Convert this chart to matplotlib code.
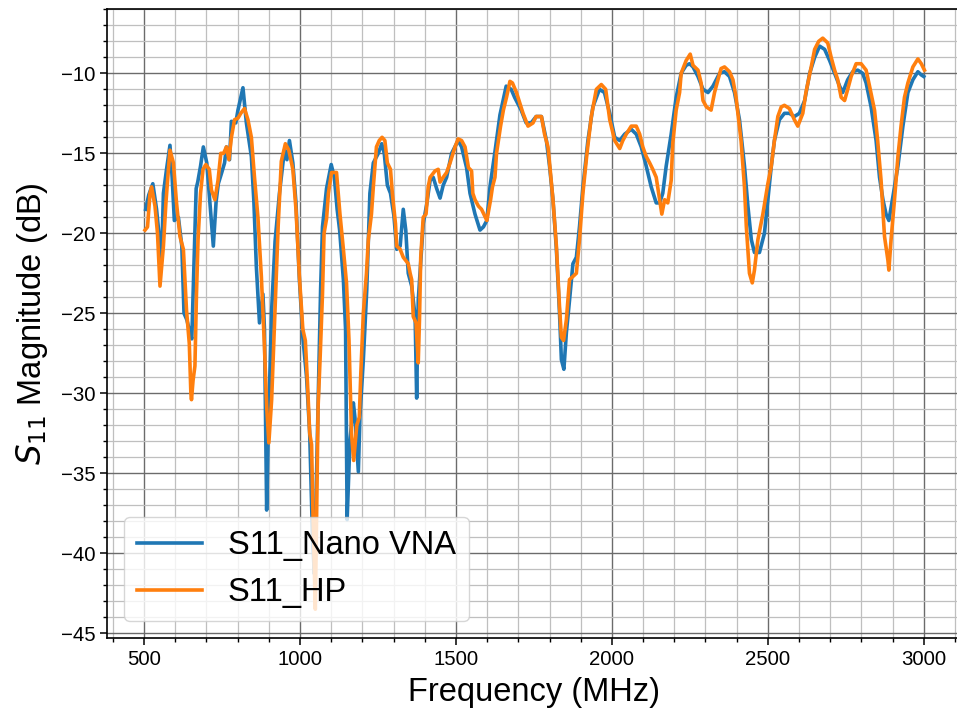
import matplotlib
matplotlib.use("Agg")
import matplotlib.pyplot as plt
from matplotlib.ticker import MultipleLocator

# --- datos (MHz, dB) ---
freq_nano = [505, 515, 528, 540, 556, 562, 572, 583, 590, 597, 610, 621, 628, 637, 647, 653,
             660, 667, 672, 681, 690, 701, 712, 722, 731, 738, 749, 758, 764, 774, 780, 794,
             801, 817, 828, 844, 852, 860, 870, 881, 886, 893, 898, 909, 920, 934, 950, 958,
             966, 977, 987, 998, 1009, 1021, 1031, 1040, 1046, 1052, 1058, 1066, 1072, 1085,
             1100, 1110, 1119, 1127, 1139, 1146, 1151, 1160, 1171, 1176, 1187, 1192, 1203,
             1214, 1224, 1235, 1251, 1262, 1270, 1280, 1290, 1301, 1310, 1321, 1331, 1339,
             1347, 1358, 1369, 1374, 1379, 1387, 1395, 1406, 1417, 1427, 1438, 1449, 1459,
             1470, 1486, 1507, 1518, 1534, 1545, 1561, 1577, 1588, 1599, 1609, 1625, 1641,
             1661, 1677, 1688, 1709, 1725, 1741, 1757, 1774, 1790, 1800, 1811, 1822, 1832,
             1838, 1846, 1854, 1864, 1875, 1886, 1896, 1907, 1923, 1939, 1960, 1976, 1993,
             2009, 2025, 2041, 2062, 2078, 2094, 2110, 2126, 2142, 2153, 2163, 2174, 2190,
             2206, 2222, 2238, 2249, 2260, 2276, 2292, 2308, 2324, 2345, 2361, 2377, 2393,
             2409, 2425, 2436, 2447, 2457, 2473, 2489, 2500, 2511, 2521, 2537, 2553, 2569,
             2585, 2601, 2618, 2634, 2650, 2666, 2682, 2698, 2714, 2730, 2740, 2756, 2772,
             2788, 2804, 2815, 2831, 2847, 2858, 2869, 2879, 2888, 2901, 2917, 2933, 2949,
             2965, 2981, 2992, 3000]
s11_nano = [-18.5, -17.6, -16.9, -18.5, -21.7, -17.5, -16.0, -14.5, -16.5, -19.2, -19.0, -20.8,
            -25.0, -25.4, -26.2, -26.6, -22.0, -17.2, -16.8, -15.8, -14.6, -15.6, -18.3, -20.8,
            -18.0, -16.9, -16.2, -15.6, -14.6, -15.4, -13.0, -13.1, -12.3, -10.9, -13.1, -15.2,
            -18.0, -22.1, -25.6, -23.8, -26.0, -37.3, -32.5, -24.8, -20.5, -17.5, -14.8, -15.4,
            -14.2, -15.6, -18.1, -22.9, -26.5, -29.0, -32.5, -39.0, -41.3, -36.0, -31.0, -23.5,
            -19.6, -17.2, -15.7, -16.5, -18.5, -19.8, -22.9, -26.0, -37.9, -33.0, -30.6, -31.5,
            -34.9, -31.5, -27.9, -23.5, -17.5, -15.6, -15.0, -14.4, -15.0, -17.0, -17.5, -18.9,
            -21.0, -20.8, -18.5, -19.8, -22.5, -23.3, -25.2, -30.3, -24.2, -21.8, -19.4, -18.2,
            -16.7, -16.5, -17.2, -17.8, -17.0, -16.5, -15.0, -14.2, -14.6, -15.9, -17.5, -18.8,
            -19.8, -19.6, -19.2, -17.1, -14.9, -12.6, -10.8, -11.0, -11.5, -12.3, -13.1, -13.1,
            -12.7, -12.7, -14.2, -15.8, -17.9, -21.0, -25.0, -27.9, -28.5, -26.2, -24.2, -21.9,
            -21.5, -19.6, -17.1, -14.2, -12.1, -11.0, -11.2, -12.5, -14.0, -14.2, -13.8, -13.5,
            -13.8, -14.6, -15.8, -17.1, -18.1, -18.1, -17.5, -15.8, -13.8, -11.5, -10.0, -9.5,
            -9.4, -9.6, -10.2, -11.0, -11.2, -10.8, -10.0, -9.9, -10.2, -11.2, -12.9, -15.8,
            -18.3, -20.4, -21.2, -21.2, -20.0, -17.9, -15.8, -14.2, -12.9, -12.5, -12.5, -12.7,
            -12.5, -11.7, -10.0, -9.0, -8.3, -8.5, -9.2, -10.0, -10.8, -11.2, -10.4, -9.9,
            -9.8, -10.0, -10.6, -12.1, -14.2, -16.5, -17.9, -18.8, -19.2, -17.7, -15.8, -13.3,
            -11.2, -10.4, -9.9, -10.1, -10.2]

freq_hp = [503, 511, 519, 524, 535, 543, 551, 562, 570, 578, 583, 594, 604, 615, 626, 636,
           645, 650, 652, 657, 663, 668, 673, 681, 689, 698, 709, 716, 727, 737, 746, 755,
           764, 772, 780, 790, 801, 810, 822, 833, 844, 854, 865, 876, 886, 893, 900, 909,
           919, 930, 940, 953, 964, 977, 987, 998, 1009, 1017, 1024, 1031, 1037, 1042, 1049,
           1058, 1064, 1072, 1077, 1085, 1091, 1101, 1117, 1128, 1139, 1149, 1157, 1165, 1172,
           1182, 1190, 1195, 1203, 1213, 1219, 1229, 1235, 1245, 1254, 1263, 1272, 1280, 1290,
           1296, 1306, 1310, 1321, 1331, 1347, 1353, 1358, 1363, 1372, 1379, 1383, 1387, 1395,
           1404, 1411, 1417, 1433, 1443, 1449, 1459, 1470, 1481, 1497, 1507, 1518, 1529, 1540,
           1550, 1554, 1561, 1572, 1582, 1599, 1611, 1617, 1625, 1630, 1643, 1652, 1662, 1673,
           1681, 1694, 1707, 1715, 1731, 1747, 1757, 1774, 1784, 1795, 1800, 1811, 1822, 1832,
           1838, 1845, 1854, 1864, 1886, 1896, 1907, 1920, 1934, 1950, 1966, 1980, 1993, 2009,
           2025, 2035, 2046, 2062, 2078, 2089, 2099, 2110, 2121, 2131, 2142, 2153, 2160, 2169,
           2179, 2190, 2195, 2206, 2217, 2222, 2238, 2251, 2260, 2276, 2286, 2292, 2303, 2318,
           2329, 2340, 2350, 2361, 2377, 2388, 2398, 2414, 2425, 2431, 2441, 2450, 2457, 2468,
           2484, 2495, 2500, 2511, 2521, 2532, 2543, 2553, 2569, 2585, 2596, 2612, 2622, 2639,
           2650, 2663, 2676, 2692, 2703, 2714, 2724, 2735, 2746, 2756, 2767, 2783, 2799, 2815,
           2826, 2842, 2852, 2863, 2874, 2885, 2888, 2895, 2906, 2917, 2927, 2938, 2949, 2965,
           2981, 2992, 3002]
s11_hp = [-19.8, -19.6, -17.5, -17.1, -18.3, -20.0, -23.3, -20.8, -18.1, -16.0, -14.8, -15.6,
          -18.1, -20.2, -21.0, -24.8, -26.9, -30.0, -30.4, -29.2, -28.3, -23.8, -20.4, -17.5,
          -16.0, -15.7, -16.0, -17.3, -17.9, -16.7, -15.0, -15.0, -14.6, -15.4, -14.0, -12.9,
          -12.8, -12.5, -12.2, -12.9, -14.0, -16.5, -19.0, -22.7, -27.1, -30.8, -33.1, -30.4,
          -25.2, -19.5, -15.5, -14.4, -14.8, -16.0, -18.5, -22.7, -26.0, -26.7, -29.4, -32.5,
          -33.2, -37.9, -43.5, -30.8, -28.0, -23.8, -20.0, -19.1, -17.5, -16.2, -16.2, -18.8,
          -21.0, -23.1, -26.7, -32.5, -34.2, -32.0, -31.5, -28.7, -25.0, -22.5, -20.4, -18.8,
          -17.1, -14.6, -14.2, -14.0, -14.2, -15.6, -16.0, -17.5, -19.4, -20.8, -21.0, -21.5,
          -21.9, -22.5, -22.9, -25.2, -25.6, -28.1, -25.4, -21.5, -19.0, -18.8, -17.1, -16.5,
          -16.1, -16.0, -16.8, -16.5, -16.2, -15.6, -14.6, -14.1, -14.2, -14.6, -15.9, -16.1,
          -17.5, -17.9, -18.3, -18.5, -19.2, -17.9, -17.1, -16.5, -15.0, -13.3, -12.3, -11.5,
          -10.5, -10.6, -11.2, -12.0, -12.5, -13.3, -13.1, -12.7, -12.7, -13.8, -14.6, -15.6,
          -17.9, -20.8, -24.6, -26.5, -26.7, -25.4, -22.9, -22.5, -20.4, -17.5, -15.0, -12.7,
          -11.0, -10.7, -11.0, -12.9, -14.2, -14.7, -14.2, -13.8, -13.3, -13.3, -13.8, -14.6,
          -15.2, -15.6, -16.0, -16.5, -17.9, -18.8, -17.9, -18.1, -16.7, -14.4, -12.3, -11.2,
          -10.0, -9.2, -8.8, -9.5, -9.8, -10.6, -11.7, -12.1, -12.3, -11.2, -10.4, -9.7, -9.6,
          -9.9, -10.4, -11.5, -14.2, -17.1, -19.6, -22.5, -23.1, -22.3, -20.4, -18.8, -17.5,
          -16.9, -15.8, -14.2, -12.7, -12.1, -12.0, -12.2, -12.9, -13.3, -12.5, -11.2, -9.6,
          -8.5, -8.0, -7.8, -8.1, -9.0, -9.8, -10.4, -11.5, -11.7, -11.0, -10.2, -9.4, -9.4,
          -9.8, -10.8, -12.3, -14.2, -16.7, -20.2, -21.7, -22.3, -20.4, -17.9, -15.2, -13.3,
          -11.5, -10.6, -9.6, -9.1, -9.4, -9.8]

# --- estilo ---
plt.rcParams["font.family"] = ["Liberation Sans", "DejaVu Sans"]

fig = plt.figure(figsize=(9.57, 7.13), dpi=100)
ax = fig.add_axes([0.1121, 0.1056, 0.892, 0.8813])

ax.plot(freq_nano, s11_nano, color="#1f77b4", lw=2.6, label="S11_Nano VNA")
ax.plot(freq_hp, s11_hp, color="#ff7f0e", lw=2.6, label="S11_HP")

ax.set_xlim(382, 3119)
ax.set_ylim(-45.28, -6.0)

ax.xaxis.set_major_locator(MultipleLocator(500))
ax.xaxis.set_minor_locator(MultipleLocator(100))
ax.yaxis.set_major_locator(MultipleLocator(5))
ax.yaxis.set_minor_locator(MultipleLocator(1))

ax.grid(which="major", color="0.42", lw=1.0)
ax.grid(which="minor", color="0.75", lw=0.9)
ax.set_axisbelow(True)

ax.tick_params(which="major", length=5, width=1.1, labelsize=14.7)
ax.tick_params(which="minor", length=3, width=1.0)
for s in ax.spines.values():
    s.set_linewidth(1.2)

ax.set_xlabel("Frequency (MHz)", fontsize=23.5, labelpad=6)
ax.set_ylabel("$S_{11}$ Magnitude (dB)", fontsize=23.5, labelpad=8)

ax.legend(loc="lower left", fontsize=23.5, borderaxespad=0.5)

fig.savefig("out.png", dpi=100)
